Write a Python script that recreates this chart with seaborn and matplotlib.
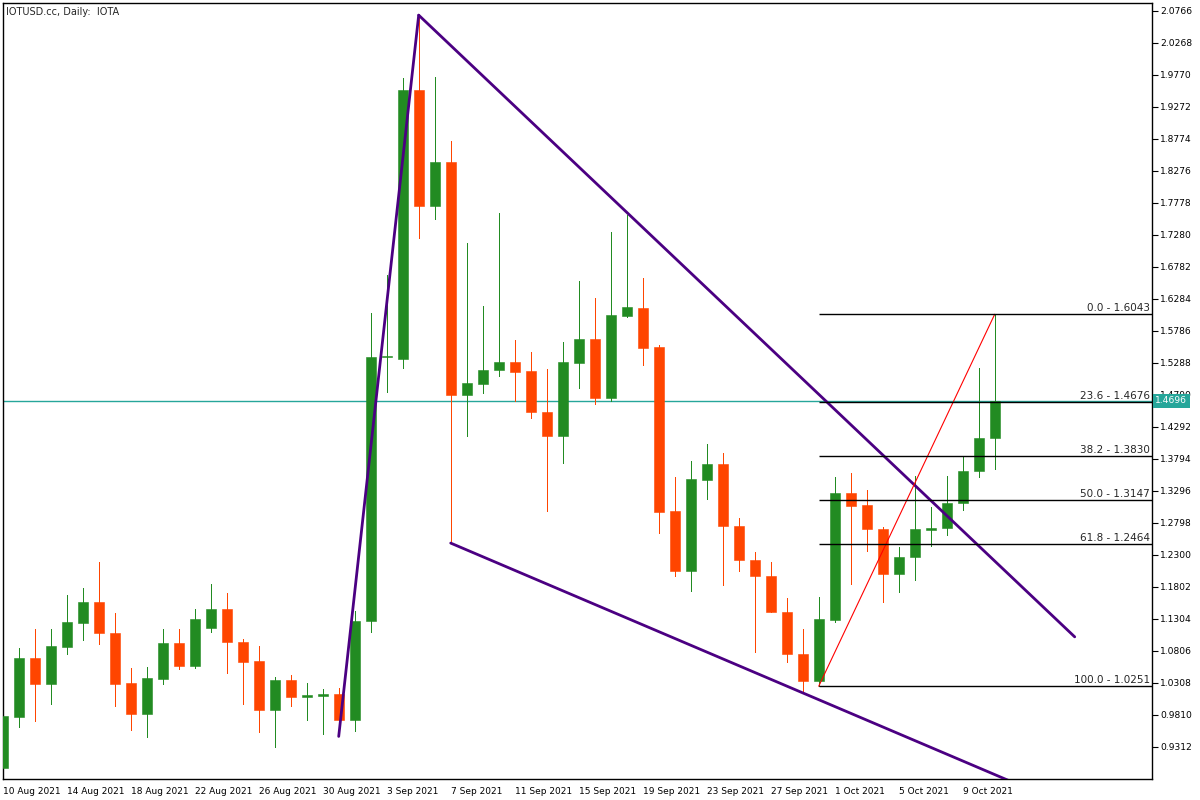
import matplotlib
matplotlib.use("Agg")
import matplotlib.pyplot as plt
import matplotlib.transforms as mtransforms
import seaborn as sns
import numpy as np
import pandas as pd

# daily IOTUSD candles, 10 Aug 2021 .. 11 Oct 2021
opens = [0.898, 0.978, 1.069, 1.029, 1.086, 1.124, 1.156, 1.108, 1.030, 0.982,
         1.036, 1.092, 1.057, 1.116, 1.145, 1.094, 1.064, 0.988, 1.035, 1.008,
         1.010, 1.013, 0.973, 1.126, 1.537, 1.535, 1.954, 1.773, 1.841, 1.479,
         1.496, 1.518, 1.530, 1.516, 1.452, 1.414, 1.528, 1.566, 1.474, 1.602,
         1.614, 1.553, 1.298, 1.205, 1.347, 1.371, 1.275, 1.221, 1.197, 1.141,
         1.076, 1.034, 1.128, 1.326, 1.307, 1.270, 1.200, 1.226, 1.269, 1.271,
         1.310, 1.360, 1.411]
highs = [0.985, 1.085, 1.114, 1.114, 1.167, 1.178, 1.219, 1.139, 1.054, 1.055,
         1.114, 1.114, 1.145, 1.184, 1.170, 1.099, 1.088, 1.040, 1.043, 1.030,
         1.021, 1.022, 1.142, 1.606, 1.665, 1.972, 2.068, 1.974, 1.874, 1.715,
         1.617, 1.762, 1.564, 1.546, 1.519, 1.561, 1.656, 1.630, 1.732, 1.759,
         1.661, 1.556, 1.351, 1.376, 1.402, 1.388, 1.287, 1.234, 1.219, 1.163,
         1.114, 1.164, 1.351, 1.357, 1.331, 1.273, 1.242, 1.352, 1.304, 1.352,
         1.384, 1.521, 1.6043]
lows = [0.890, 0.962, 0.971, 0.998, 1.075, 1.097, 1.091, 0.994, 0.957, 0.946,
        1.029, 1.052, 1.053, 1.110, 1.046, 0.998, 0.954, 0.931, 0.994, 0.973,
        0.951, 0.947, 0.955, 1.110, 1.484, 1.521, 1.723, 1.753, 1.248, 1.415,
        1.482, 1.508, 1.469, 1.443, 1.298, 1.373, 1.490, 1.465, 1.469, 1.600,
        1.525, 1.263, 1.196, 1.174, 1.317, 1.182, 1.205, 1.079, 1.140, 1.063,
        1.017, 1.0251, 1.125, 1.185, 1.235, 1.157, 1.172, 1.190, 1.244, 1.261,
        1.300, 1.351, 1.364]
closes = [0.979, 1.069, 1.029, 1.088, 1.125, 1.156, 1.108, 1.029, 0.982, 1.038,
          1.092, 1.057, 1.130, 1.145, 1.094, 1.063, 0.988, 1.035, 1.008, 1.012,
          1.013, 0.973, 1.127, 1.538, 1.538, 1.954, 1.773, 1.841, 1.479, 1.497,
          1.518, 1.530, 1.514, 1.452, 1.414, 1.530, 1.566, 1.474, 1.603, 1.616,
          1.552, 1.297, 1.204, 1.348, 1.371, 1.275, 1.221, 1.197, 1.141, 1.076,
          1.034, 1.130, 1.326, 1.306, 1.270, 1.200, 1.226, 1.270, 1.271, 1.310,
          1.360, 1.412, 1.4696]

current_price = 1.4696

# fibonacci retracement (swing 51 -> 62)
fib_pct = [0.0, 23.6, 38.2, 50.0, 61.8, 100.0]
fib_val = [1.6043, 1.4676, 1.3830, 1.3147, 1.2464, 1.0251]
fib_swing_x = [51, 62]
fib_swing_y = [1.0251, 1.6043]

# hand drawn trend lines (day index, price)
trend_up_x, trend_up_y = [21, 26], [0.947, 2.070]
trend_down_x, trend_down_y = [26, 67], [2.070, 1.102]
trend_low_x, trend_low_y = [28, 63], [1.248, 0.877]

ytick_values = [2.0766, 2.0268, 1.9770, 1.9272, 1.8774, 1.8276, 1.7778, 1.7280,
                1.6782, 1.6284, 1.5786, 1.5288, 1.4790, 1.4292, 1.3794, 1.3296,
                1.2798, 1.2300, 1.1802, 1.1304, 1.0806, 1.0308, 0.9810, 0.9312]
xtick_days = [0, 4, 8, 12, 16, 20, 24, 28, 32, 36, 40, 44, 48, 52, 56, 60]
xtick_labels = ['10 Aug 2021', '14 Aug 2021', '18 Aug 2021', '22 Aug 2021',
                '26 Aug 2021', '30 Aug 2021', '3 Sep 2021', '7 Sep 2021',
                '11 Sep 2021', '15 Sep 2021', '19 Sep 2021', '23 Sep 2021',
                '27 Sep 2021', '1 Oct 2021', '5 Oct 2021', '9 Oct 2021']

BULL = '#228B22'
BEAR = '#FF4500'
INDIGO = '#4B0082'
TEAL = '#26A69A'

sns.set_style("white")
plt.rcParams['font.family'] = ['DejaVu Sans']

df = pd.DataFrame({'open': opens, 'high': highs, 'low': lows, 'close': closes})
df['date'] = pd.date_range('2021-08-10', periods=len(df), freq='D')
df['day'] = np.arange(len(df))
df['color'] = np.where(df['close'] >= df['open'], BULL, BEAR)
df['body_lo'] = df[['open', 'close']].min(axis=1)
df['body_h'] = np.maximum((df['close'] - df['open']).abs(), 0.0016)

fig = plt.figure(figsize=(12, 8), dpi=100)
ax = fig.add_axes([0.00225, 0.02625, 0.95775, 0.97038])

xmax = 71.83
ax.set_xlim(0, xmax)
ax.set_ylim(0.8807, 2.0894)

# current price line
ax.axhline(current_price, color=TEAL, lw=1, zorder=1)

# candles: 1px wicks, solid bodies
ax.vlines(df['day'], df['low'], df['high'], colors=df['color'], lw=0.72,
          antialiased=False, zorder=2)
ax.bar(df['day'], df['body_h'], bottom=df['body_lo'], width=0.64,
       color=df['color'], edgecolor=df['color'], lw=0.4, zorder=3)

# trend lines
for xs, ys in [(trend_up_x, trend_up_y), (trend_down_x, trend_down_y),
               (trend_low_x, trend_low_y)]:
    sns.lineplot(x=xs, y=ys, ax=ax, color=INDIGO, lw=2.0, zorder=4)

# fibonacci
sns.lineplot(x=fib_swing_x, y=fib_swing_y, ax=ax, color='red', lw=0.8, zorder=4)
ax.hlines(fib_val, fib_swing_x[0], xmax, colors='black', lw=1.0, zorder=4)
for p, v in zip(fib_pct, fib_val):
    ax.text(xmax - 0.12, v + 0.002, f"{p:.1f} - {v:.4f}", ha='right', va='bottom',
            fontsize=7.5, zorder=5)

# axes look (MetaTrader style)
for s in ax.spines.values():
    s.set_visible(True)
    s.set_color('black')
    s.set_linewidth(1.0)
ax.yaxis.tick_right()
ax.set_yticks(ytick_values)
ax.set_yticklabels([f"{v:.4f}" for v in ytick_values])
ax.set_xticks(xtick_days)
ax.set_xticklabels(xtick_labels, ha='left')
ax.tick_params(axis='both', direction='out', length=4, width=0.8, pad=2,
               colors='black')
ax.tick_params(axis='x', labelsize=6.5)
ax.tick_params(axis='y', labelsize=6.6)
ax.set_xlabel('')
ax.set_ylabel('')

# price tag on the scale (covers part of the 1.4790 label, as in the terminal)
trans = mtransforms.blended_transform_factory(ax.transAxes, ax.transData)
ax.text(1.003, current_price, f"{current_price:.4f}", transform=trans, ha='left',
        va='center', color='white', fontsize=6.6, zorder=10, clip_on=False,
        bbox=dict(boxstyle='square,pad=0.25', fc=TEAL, ec='none'))

ax.text(0.003, 0.994, "IOTUSD.cc, Daily:  IOTA", transform=ax.transAxes,
        ha='left', va='top', fontsize=7)

fig.savefig('out.png', dpi=100)
plt.close(fig)
